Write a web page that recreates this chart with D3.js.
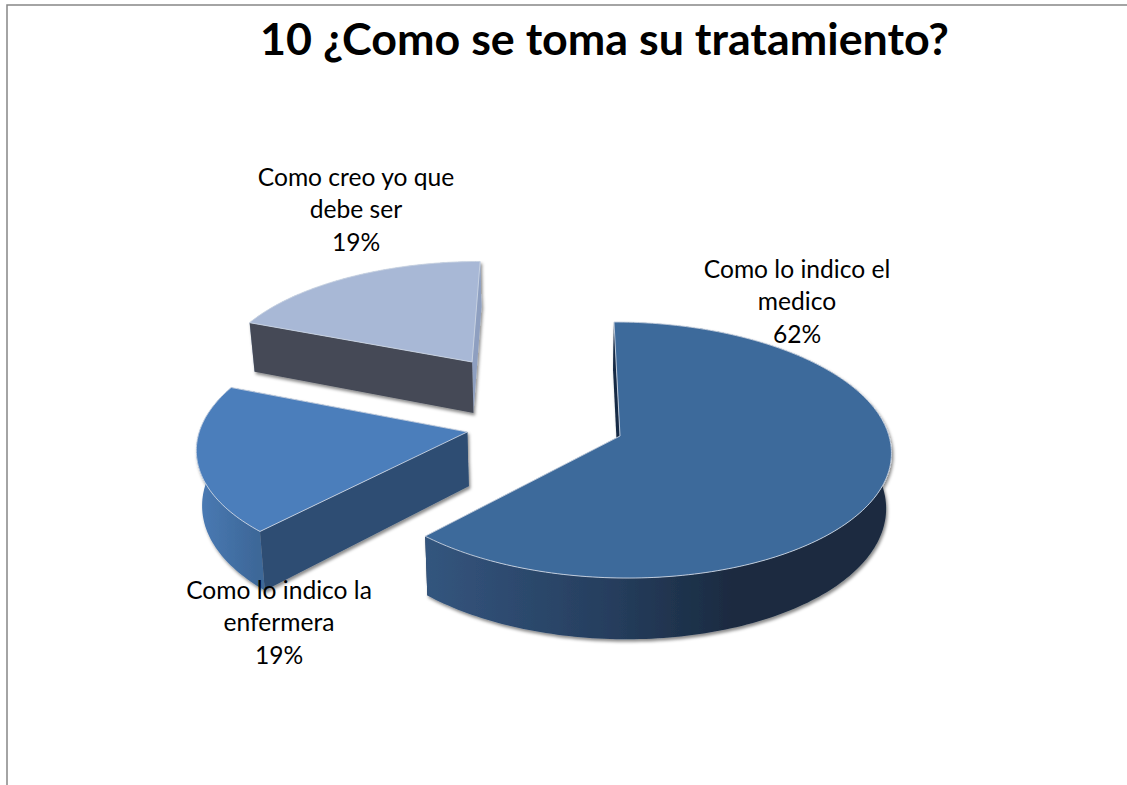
<!DOCTYPE html>
<html>
<head>
<meta charset="utf-8">
<script src="https://cdn.jsdelivr.net/npm/d3@7"></script>
<style>
  html, body { margin: 0; padding: 0; background: #fff; }
  svg { display: block; }
  text { font-family: Lato, "Open Sans", sans-serif; fill: #000; }
</style>
</head>
<body>
<div id="chart"></div>
<script>
// Survey answers, in clockwise order from twelve o'clock.
const categories = ["Como lo indico el medico", "Como lo indico la enfermera", "Como creo yo que debe ser"];
const shares = [62, 19, 19];
const labelLines = [["Como lo indico el", "medico"], ["Como lo indico la", "enfermera"], ["Como creo yo que", "debe ser"]];
const chartTitle = "10 ¿Como se toma su tratamiento?";

const width = 1127, height = 785;

// Camera for the tilted disc: unit-disc coordinates (u right, v away from the viewer).
const vanishX = 559, hubOffset = 61, hubY = 436;
const radiusX = 269, radiusY = 126.5, foreshorten = 0.1094;
const rimDepth = 54.5, verticalConverge = 0.016;

// How far each slice is pulled out of the disc, in unit-disc coordinates.
const pullOut = [[0, 0], [-0.569, 0.032], [-0.572, 0.625]];

const topFill = ["#3E6A9B", "#4C7EBB", "#A8B8D6"];
const startFaceFill = ["#182B45", "#2E4D73", "#454A57"];
const endFaceFill = ["#182B45", "#2E4D73", "#8E9FC0"];

const labelAnchors = [
  { x: 797, y: 278 },
  { x: 279, y: 599 },
  { x: 356, y: 186 }
];
const lineStep = 32.3;

function project(u, v, drop) {
  const w = 1 + foreshorten * v;
  const x = vanishX + (hubOffset + radiusX * u) / w;
  const y = hubY - radiusY * v / w;
  return [x + (vanishX - x) * verticalConverge * drop, y + rimDepth * drop / w];
}

const svg = d3.select("#chart").append("svg").attr("width", width).attr("height", height);
const defs = svg.append("defs");

const shadow = defs.append("filter").attr("id", "soft-shadow")
  .attr("x", "-10%").attr("y", "-10%").attr("width", "120%").attr("height", "125%");
shadow.append("feDropShadow")
  .attr("dx", 1.5).attr("dy", 2.5).attr("stdDeviation", 1.4)
  .attr("flood-color", "#000").attr("flood-opacity", 0.45);

function gradient(id, x1, x2, stops) {
  const g = defs.append("linearGradient").attr("id", id)
    .attr("gradientUnits", "userSpaceOnUse")
    .attr("x1", x1).attr("x2", x2).attr("y1", 0).attr("y2", 0);
  stops.forEach(([o, c]) => g.append("stop").attr("offset", o).attr("stop-color", c));
}
gradient("rim-0", 420, 891, [[0, "#34567F"], [0.4, "#263E5E"], [0.66, "#1A2B41"], [1, "#1A2B40"]]);
gradient("rim-1", 196, 258, [[0, "#4A7BB5"], [1, "#3D6798"]]);
gradient("rim-2", 250, 480, [[0, "#8E9FC0"], [1, "#8E9FC0"]]);

// Chart-area border: only its top and left sides fall inside the page.
svg.append("path").attr("fill", "none").attr("stroke", "#868686").attr("stroke-width", 1.5)
  .attr("d", d3.line()([[7, height], [7, 5], [width, 5]]));

const pie = d3.pie().sort(null).value(d => d).startAngle(0).endAngle(2 * Math.PI);
const slices = pie(shares);
const line = d3.line();

function rimPoints(d, i, drop) {
  const [du, dv] = pullOut[i];
  const n = Math.ceil((d.endAngle - d.startAngle) / 0.02);
  return d3.range(n + 1).map(k => {
    const a = d.startAngle + (d.endAngle - d.startAngle) * k / n;
    return project(Math.sin(a) + du, Math.cos(a) + dv, drop);
  });
}

function hub(i, drop) {
  return project(pullOut[i][0], pullOut[i][1], drop);
}

// Back slices first so the nearer ones overlap them.
const order = [2, 1, 0];
const groups = svg.selectAll("g.slice").data(order.map(i => ({ d: slices[i], i })))
  .join("g").attr("class", "slice").attr("filter", "url(#soft-shadow)");

groups.each(function ({ d, i }) {
  const g = d3.select(this);
  const topRim = rimPoints(d, i, 0);
  const lowRim = rimPoints(d, i, 1);
  const last = topRim.length - 1;
  const hubTop = hub(i, 0), hubLow = hub(i, 1);

  // cut face at the clockwise end
  g.append("path").attr("fill", endFaceFill[i])
    .attr("d", line([hubTop, topRim[last], lowRim[last], hubLow]) + "Z");
  // curved outer wall
  g.append("path").attr("fill", `url(#rim-${i})`)
    .attr("d", line(topRim.concat(lowRim.slice().reverse())) + "Z");
  // cut face at the counter-clockwise end
  g.append("path").attr("fill", startFaceFill[i])
    .attr("d", line([hubTop, topRim[0], lowRim[0], hubLow]) + "Z");
  // upper surface with a thin lit edge
  g.append("path").attr("fill", topFill[i])
    .attr("stroke", "#CBD5E3").attr("stroke-width", 0.9).attr("stroke-linejoin", "round")
    .attr("d", line([hubTop].concat(topRim)) + "Z");
});

// Data labels
const labels = svg.selectAll("g.label").data(slices).join("g").attr("class", "label");
labels.each(function (d, i) {
  const rows = labelLines[i].concat(`${d.value}%`);
  d3.select(this).selectAll("text").data(rows).join("text")
    .attr("x", labelAnchors[i].x)
    .attr("y", (_, r) => labelAnchors[i].y + r * lineStep)
    .attr("text-anchor", "middle")
    .attr("font-size", 24.6)
    .text(t => t);
});

svg.append("text").attr("x", 604.5).attr("y", 55)
  .attr("text-anchor", "middle").attr("font-size", 44.8).attr("font-weight", 700)
  .text(chartTitle);
</script>
</body>
</html>
